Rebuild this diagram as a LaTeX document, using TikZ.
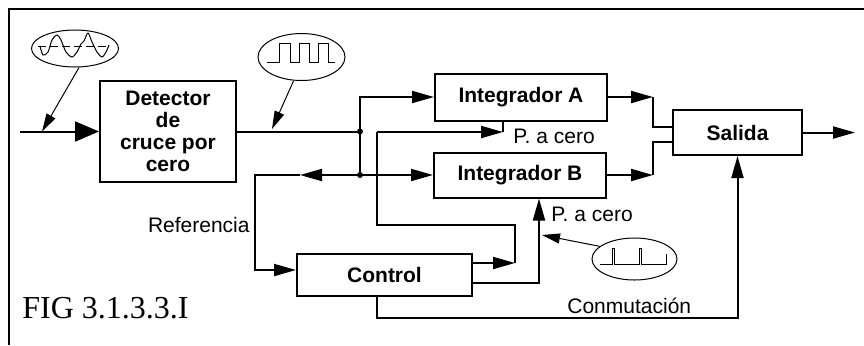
\documentclass[tikz,border=0pt]{standalone}
\usepackage{fontspec}
\setmainfont{Liberation Sans}
\newfontfamily\figfont{Liberation Serif}
\usepackage{tikz}
\usetikzlibrary{shapes,arrows.meta}
\tikzstyle{bloc}=[rectangle,draw,line width=1pt,inner sep=1pt,
font=\fontsize{10.5}{11}\selectfont\bfseries,align=center]
\tikzstyle{fleche}=[-{Triangle[length=11pt,width=6pt]},line width=1pt]
\tikzstyle{grosse}=[-{Triangle[length=12pt,width=10pt]},line width=1pt]
\tikzstyle{trait}=[line width=1pt]
\tikzstyle{bulle}=[ellipse,draw,line width=0.5pt,inner sep=0pt]
\tikzstyle{signal}=[line width=0.5pt]
\tikzstyle{pointe}=[-{Triangle[length=9pt,width=5pt]},line width=0.5pt]
\tikzstyle{etiq}=[font=\fontsize{10.5}{12}\selectfont,inner sep=0pt]

\begin{document}
\begin{tikzpicture}[x=0.5pt,y=-0.5pt]
\useasboundingbox (0,0) rectangle (864,345);
\draw[trait] (9,345) -- (9,9) -- (864,9);

% blocs
\node[bloc,minimum width=68pt,minimum height=50.5pt] (D) at (168,131.5) {Detector\\de\\cruce por\\cero};
\node[bloc,minimum width=86pt,minimum height=23.5pt] (IA) at (521,97) {Integrador A};
\node[bloc,minimum width=86pt,minimum height=22.5pt] (IB) at (520,175) {Integrador B};
\node[bloc,minimum width=87.5pt,minimum height=21pt] (C) at (384.5,275) {Control};
\node[bloc,minimum width=64.5pt,minimum height=22.5pt] (S) at (737.5,132.5) {Salida};

% points de passage
\coordinate (in) at (20,131.5);
\coordinate (j1) at (360,131.5);
\coordinate (j2) at (360,175);
\coordinate (ra) at (300,175);
\coordinate (rb) at (255,175);
\coordinate (r1) at (515,263);
\coordinate (r2) at (515,225);
\coordinate (r3) at (377,225);
\coordinate (r4) at (377,132);
\coordinate (r5) at (503,132);
\coordinate (r6) at (539,283);
\coordinate (k1) at (737.5,318);
\coordinate (oa) at (653,97);
\coordinate (ob) at (653,175);
\coordinate (out) at (855,132.5);

\draw[grosse] (in) -- (D);
\draw[trait] (D.east) -- (j1);
\draw[fleche] (j1) |- (IA.west);
\draw[trait] (j1) -- (j2);
\draw[fleche] (j2) -- (IB.west);
\draw[fleche] (j2) -- (ra);
\draw[fleche] (ra) -- (rb) |- ([yshift=2.5pt]C.west);
\fill (j1) circle (1.5pt);
\fill (j2) circle (1.5pt);

\draw[fleche] ([yshift=6pt]C.east) -- (r1);
\draw[trait] (r1) -- (r2) -- (r3) -- (r4);
\draw[fleche] (r4) -- (r5);
\draw[trait] (r5) -- (r5 |- IA.south);
\draw[fleche] ([yshift=-4pt]C.east) -- (r6) -- (r6 |- IB.south);
\draw[fleche] ([xshift=-3.75pt]C.south) |- (k1) -- (S.south);

\draw[fleche] (IA.east) -- (oa);
\draw[trait] (oa) |- ([yshift=2.75pt]S.west);
\draw[fleche] (IB.east) -- (ob);
\draw[trait] (ob) |- ([yshift=-4.75pt]S.west);
\draw[fleche] (S.east) -- (out);

% bulles et signaux
\node[bulle,minimum width=43.5pt,minimum height=18.5pt] (O1) at (75,48.5) {};
\draw[signal,dash pattern=on 4pt off 2pt] (38,46) -- (109,46);
\draw[signal] plot[smooth] coordinates {(40,46) (43,55) (48,52) (52,40) (57,35) (61,40) (66,52) (72,57) (77,52) (81,44) (84,41) (88,33) (92,42) (97,52) (102,57) (106,52) (109,45)};
\node[bulle,minimum width=43.5pt,minimum height=23.5pt] (O2) at (301.5,57) {};
\draw[signal] (267,62) -- (279,62) -- (279,43) -- (290,43) -- (290,62) -- (299,62) -- (299,43) -- (309,43) -- (309,62) -- (318,62) -- (318,43) -- (328,43) -- (328,62) -- (335,62);
\node[bulle,minimum width=42.5pt,minimum height=21pt] (O3) at (634.5,259) {};
\draw[signal] (600,264) -- (612,264) -- (612,248) -- (614,248) -- (614,264) -- (639,264) -- (639,248) -- (641,248) -- (641,264) -- (666,264) -- (666,254);

\coordinate (p1) at (42,131.5);
\coordinate (p2) at (272,129);
\coordinate (p3) at (542,235);
\draw[pointe] ([xshift=2pt]O1.south) -- (p1);
\draw[pointe] ([xshift=-4pt]O2.south) -- (p2);
\draw[pointe] (O3.160) -- (p3);

% textes
\node[etiq,anchor=west] (PA) at (513,136) {P. a cero};
\node[etiq,anchor=west] (PB) at (551,214) {P. a cero};
\node[etiq,anchor=east] (R) at (250,225) {Referencia};
\node[etiq,anchor=west] (K) at (567,306) {Conmutación};
\node[anchor=west,inner sep=0pt,font=\figfont\fontsize{16}{18}\selectfont] (F) at (22,308) {FIG 3.1.3.3.I};
\end{tikzpicture}
\end{document}
